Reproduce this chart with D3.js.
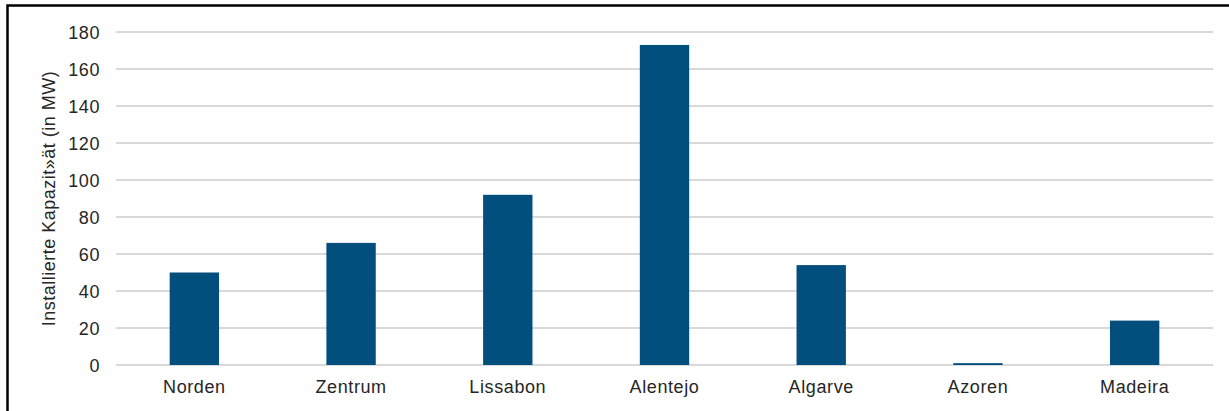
<!DOCTYPE html>
<html>
<head>
<meta charset="utf-8">
<script src="https://cdn.jsdelivr.net/npm/d3@7"></script>
<style>
  html, body { margin: 0; padding: 0; background: #fff; }
  svg { display: block; }
  text { font-family: "Liberation Sans", Arial, sans-serif; fill: #262626; }
</style>
</head>
<body>
<svg id="chart" width="1229" height="411"></svg>
<script>
const categories = ["Norden", "Zentrum", "Lissabon", "Alentejo", "Algarve", "Azoren", "Madeira"];
const values = [50, 66, 92, 173, 54, 1, 24];
const yTicks = [0, 20, 40, 60, 80, 100, 120, 140, 160, 180];
const yLabel = "Installierte Kapazit»ät (in MW)";

const W = 1229, H = 411;
const margin = { left: 116, right: 16, top: 32, bottom: 46 };
const FS = 18, LS = 0.6;
const svg = d3.select("#chart");

// frame
svg.append("rect")
  .attr("x", 7.5).attr("y", 5.5)
  .attr("width", W + 10).attr("height", H + 10)
  .attr("fill", "none").attr("stroke", "#000").attr("stroke-width", 2.5);

const x = d3.scaleBand().domain(categories)
  .range([margin.left, W - margin.right])
  .paddingInner(0.685).paddingOuter(0.3425);
const y = d3.scaleLinear().domain([0, 180]).range([H - margin.bottom, margin.top]);

// gridlines
svg.append("g").selectAll("line").data(yTicks).join("line")
  .attr("x1", margin.left).attr("x2", W - margin.right)
  .attr("y1", d => y(d)).attr("y2", d => y(d))
  .attr("stroke", "#d9d9d9").attr("stroke-width", 2);

// y axis labels
const yAxis = d3.axisLeft(y).tickValues(yTicks).tickSize(0).tickPadding(0);
const gy = svg.append("g").attr("transform", `translate(${margin.left - 16},0)`).call(yAxis);
gy.select(".domain").remove();
gy.selectAll("text").attr("font-size", FS).attr("letter-spacing", LS)
  .attr("font-family", "Liberation Sans, Arial, sans-serif")
  .attr("fill", "#262626").attr("dy", "0.35em");

// bars
svg.append("g").selectAll("rect").data(values).join("rect")
  .attr("x", (d, i) => x(categories[i]))
  .attr("width", x.bandwidth())
  .attr("y", d => y(d))
  .attr("height", d => y(0) - y(d))
  .attr("fill", "#024f7e");

// x axis labels
const xAxis = d3.axisBottom(x).tickSize(0).tickPadding(0);
const gx = svg.append("g").attr("transform", `translate(0,${y(0) + 28})`).call(xAxis);
gx.select(".domain").remove();
gx.selectAll("text").attr("font-size", FS).attr("letter-spacing", LS)
  .attr("font-family", "Liberation Sans, Arial, sans-serif")
  .attr("fill", "#262626").attr("dy", 0);

// y label
svg.append("text")
  .attr("transform", `translate(55,${(y(0) + y(180)) / 2}) rotate(-90)`)
  .attr("text-anchor", "middle")
  .attr("font-size", FS).attr("letter-spacing", 0.5)
  .attr("fill", "#333")
  .text(yLabel);
</script>
</body>
</html>
